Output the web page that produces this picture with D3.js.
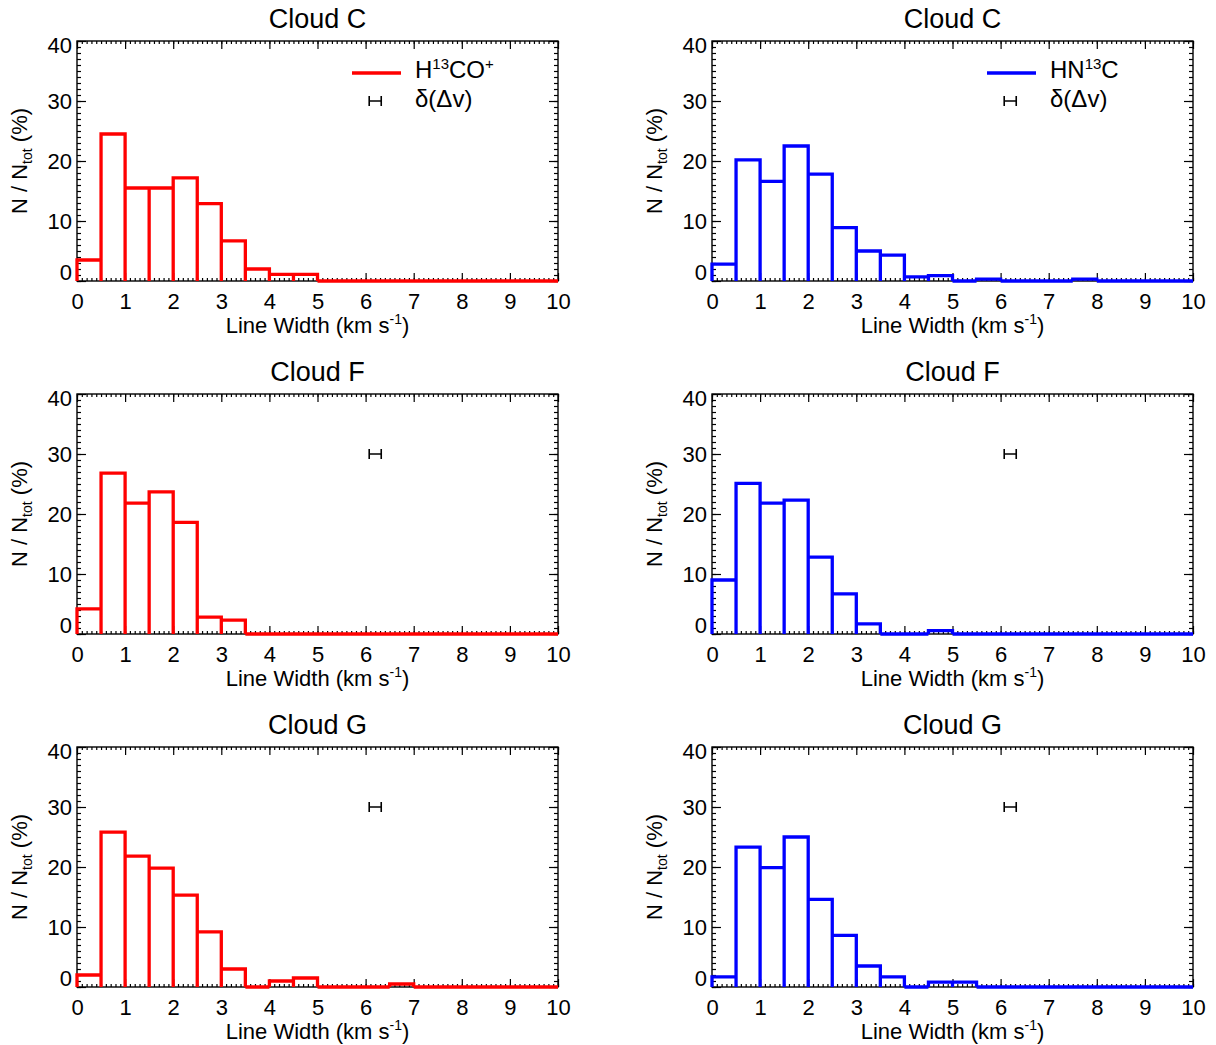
<!DOCTYPE html>
<html>
<head>
<meta charset="utf-8">
<script src="https://cdn.jsdelivr.net/npm/d3@7"></script>
<style>
  body { margin: 0; background: #fff; }
  svg { font-family: "Liberation Sans", Arial, Helvetica, sans-serif; }
</style>
</head>
<body>
<div id="chart"></div>
<script>
// histogram bins: 0 - 10 km/s in 0.5 km/s steps
const binEdges = d3.range(0, 10.5, 0.5)

// percentages read per bin (20 bins)
const h13coC = [3.5, 24.5, 15.5, 15.5, 17.2, 12.9, 6.7, 2.0, 1.1, 1.1, 0, 0, 0, 0, 0, 0, 0, 0, 0, 0]
const hn13cC = [2.8, 20.2, 16.6, 22.5, 17.8, 8.9, 5.0, 4.3, 0.7, 0.9, 0, 0.3, 0, 0, 0, 0.3, 0, 0, 0, 0]
const h13coF = [4.2, 26.8, 21.8, 23.7, 18.6, 2.8, 2.3, 0, 0, 0, 0, 0, 0, 0, 0, 0, 0, 0, 0, 0]
const hn13cF = [9.0, 25.1, 21.8, 22.3, 12.8, 6.7, 1.7, 0, 0, 0.55, 0, 0, 0, 0, 0, 0, 0, 0, 0, 0]
const h13coG = [2.0, 25.8, 21.8, 19.8, 15.3, 9.2, 3.0, 0, 1.0, 1.5, 0, 0, 0, 0.5, 0, 0, 0, 0, 0, 0]
const hn13cG = [1.7, 23.3, 19.9, 25.0, 14.6, 8.6, 3.5, 1.7, 0, 0.8, 0.8, 0, 0, 0, 0, 0, 0, 0, 0, 0]

const clouds = ['Cloud C', 'Cloud F', 'Cloud G']
const xTicks = d3.range(0, 11, 1)
const yTicks = [0, 10, 20, 30, 40]
// typical uncertainty of the line width, drawn as a horizontal error bar
const errBar = { x: 6.2, y: 30, dx: 0.125 }

const panels = [
  { row: 0, col: 0, data: h13coC, color: '#ff0000', legend: 'H13CO+' },
  { row: 0, col: 1, data: hn13cC, color: '#0000ff', legend: 'HN13C' },
  { row: 1, col: 0, data: h13coF, color: '#ff0000' },
  { row: 1, col: 1, data: hn13cF, color: '#0000ff' },
  { row: 2, col: 0, data: h13coG, color: '#ff0000' },
  { row: 2, col: 1, data: hn13cG, color: '#0000ff' }
]

const width = 481
const height = 240
const lefts = [77, 712]
const tops = [41, 394, 747]

const svg = d3.select('#chart').append('svg')
  .attr('width', 1216)
  .attr('height', 1045)

const xScale = d3.scaleLinear().domain([0, 10]).range([0, width])
const yScale = d3.scaleLinear().domain([0, 40]).range([height, 0])

panels.forEach(p => {
  const g = svg.append('g')
    .attr('transform', 'translate(' + lefts[p.col] + ',' + tops[p.row] + ')')

  // title
  g.append('text')
    .attr('x', width / 2)
    .attr('y', -13)
    .attr('text-anchor', 'middle')
    .attr('font-size', 27)
    .text(clouds[p.row])

  // major + minor ticks on all four sides, pointing inward
  const ax = (gen, tr) => g.append('g').attr('transform', tr || null).call(gen)

  const bottom = ax(d3.axisBottom(xScale).tickValues(xTicks).tickFormat(d3.format('d'))
    .tickSizeInner(-8).tickSizeOuter(0).tickPadding(12), 'translate(0,' + height + ')')
  bottom.selectAll('text').attr('font-size', 22).attr('fill', '#000')
  ax(d3.axisBottom(xScale).tickValues(d3.range(0, 10.01, 0.1)).tickFormat('')
    .tickSizeInner(-3).tickSizeOuter(0), 'translate(0,' + height + ')')
  ax(d3.axisTop(xScale).tickValues(xTicks).tickFormat('').tickSizeInner(-8).tickSizeOuter(0))
  ax(d3.axisTop(xScale).tickValues(d3.range(0, 10.01, 0.1)).tickFormat('').tickSizeInner(-3).tickSizeOuter(0))

  const left = ax(d3.axisLeft(yScale).tickValues(yTicks).tickFormat(d3.format('d'))
    .tickSizeInner(-9).tickSizeOuter(0).tickPadding(5))
  left.selectAll('text').attr('font-size', 22).attr('fill', '#000')
    .attr('dy', d => d === 0 ? '-0.05em' : (d === 40 ? '0.52em' : '0.34em'))
  ax(d3.axisLeft(yScale).tickValues(d3.range(0, 41, 1)).tickFormat('').tickSizeInner(-4).tickSizeOuter(0))
  ax(d3.axisRight(yScale).tickValues(yTicks).tickFormat('').tickSizeInner(-9).tickSizeOuter(0), 'translate(' + width + ',0)')
  ax(d3.axisRight(yScale).tickValues(d3.range(0, 41, 1)).tickFormat('').tickSizeInner(-4).tickSizeOuter(0), 'translate(' + width + ',0)')

  g.selectAll('.domain').remove()
  g.selectAll('.tick line').attr('stroke', '#000').attr('stroke-width', 1.2)

  // frame
  g.append('rect')
    .attr('width', width)
    .attr('height', height)
    .attr('fill', 'none')
    .attr('stroke', '#000')
    .attr('stroke-width', 1.4)

  // axis titles
  const xt = g.append('text')
    .attr('x', width / 2)
    .attr('y', height + 52)
    .attr('text-anchor', 'middle')
    .attr('font-size', 22)
  xt.append('tspan').text('Line Width (km s')
  xt.append('tspan').attr('font-size', 14).attr('dy', -9).text('-1')
  xt.append('tspan').attr('dy', 9).text(')')

  const yt = g.append('text')
    .attr('transform', 'translate(-50,' + (height / 2) + ') rotate(-90)')
    .attr('text-anchor', 'middle')
    .attr('font-size', 22)
  yt.append('tspan').text('N / N')
  yt.append('tspan').attr('font-size', 14).attr('dy', 5).text('tot')
  yt.append('tspan').attr('dy', -5).text(' (%)')

  // histogram outline
  const path = d3.path()
  p.data.forEach((v, i) => {
    const x0 = xScale(binEdges[i])
    const x1 = xScale(binEdges[i + 1])
    path.moveTo(x0, yScale(0))
    path.lineTo(x0, yScale(v))
    path.lineTo(x1, yScale(v))
    path.lineTo(x1, yScale(0))
  })
  g.append('path')
    .attr('d', path.toString())
    .attr('fill', 'none')
    .attr('stroke', p.color)
    .attr('stroke-width', 3.3)

  // error bar
  const ex0 = xScale(errBar.x - errBar.dx)
  const ex1 = xScale(errBar.x + errBar.dx)
  const ey = yScale(errBar.y)
  g.append('path')
    .attr('d', 'M' + ex0 + ',' + ey + 'H' + ex1 + 'M' + ex0 + ',' + (ey - 5) + 'V' + (ey + 5) + 'M' + ex1 + ',' + (ey - 5) + 'V' + (ey + 5))
    .attr('stroke', '#000')
    .attr('stroke-width', 1.6)
    .attr('fill', 'none')

  // legend (first row only)
  if (p.legend) {
    g.append('line')
      .attr('x1', 275).attr('x2', 324)
      .attr('y1', 32).attr('y2', 32)
      .attr('stroke', p.color)
      .attr('stroke-width', 3.5)
    const lt = g.append('text').attr('x', 338).attr('y', 37).attr('font-size', 24)
    if (p.legend === 'H13CO+') {
      lt.append('tspan').text('H')
      lt.append('tspan').attr('font-size', 15).attr('dy', -9).text('13')
      lt.append('tspan').attr('dy', 9).text('CO')
      lt.append('tspan').attr('font-size', 15).attr('dy', -9).text('+')
    } else {
      lt.append('tspan').text('HN')
      lt.append('tspan').attr('font-size', 15).attr('dy', -9).text('13')
      lt.append('tspan').attr('dy', 9).text('C')
    }
    g.append('text')
      .attr('x', 338).attr('y', 66)
      .attr('font-size', 24)
      .text('δ(Δv)')
  }
})
</script>
</body>
</html>
